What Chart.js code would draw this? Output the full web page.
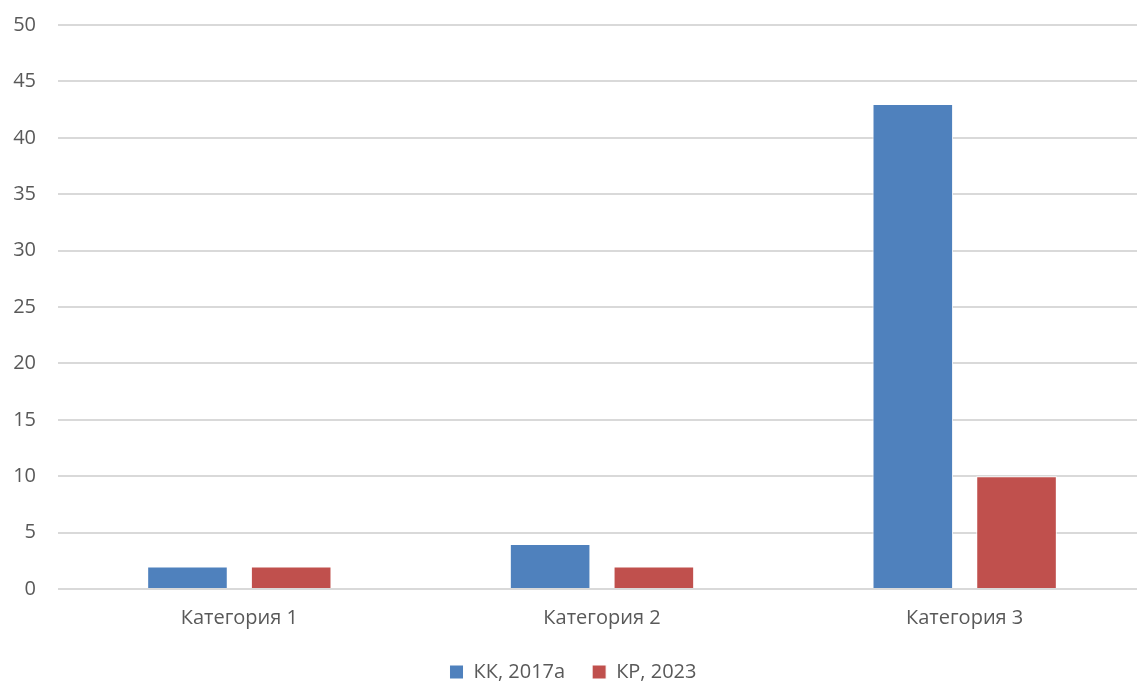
<!DOCTYPE html>
<html><head><meta charset="utf-8">
<script src="https://cdn.jsdelivr.net/npm/chart.js@4"></script>
<style>html,body{margin:0;padding:0;background:#fff;overflow:hidden}#wrap{width:1146px;height:682px}</style>
</head><body><div id="wrap"><canvas id="c"></canvas></div>
<script>
const categories = ["Категория 1", "Категория 2", "Категория 3"];
const seriesKK = [2, 4, 43];
const seriesKR = [2, 2, 10];
const seriesNames = ["КК, 2017а", "КР, 2023"];
const yMin = 0, yMax = 50, yStep = 5;

const font = {family: "'Open Sans', 'Liberation Sans', sans-serif", size: 20};
new Chart(document.getElementById('c'), {
  type: 'bar',
  data: {
    labels: categories,
    datasets: [
      {label: seriesNames[0], data: seriesKK, backgroundColor: '#4F81BD', borderColor: '#ffffff', borderWidth: 1, categoryPercentage: 0.572, barPercentage: 0.777},
      {label: seriesNames[1], data: seriesKR, backgroundColor: '#C0504D', borderColor: '#ffffff', borderWidth: 1, categoryPercentage: 0.572, barPercentage: 0.777}
    ]
  },
  options: {
    responsive: true, maintainAspectRatio: false, animation: false,
    layout: {padding: {top: 25, right: 0, bottom: -10, left: 0}},
    plugins: {
      legend: {position: 'bottom', labels: {font: font, color: '#595959', boxWidth: 14, boxHeight: 14, padding: 27}},
      tooltip: {enabled: false}
    },
    scales: {
      x: {grid: {display: false, drawTicks: false}, border: {display: false},
          ticks: {font: font, color: '#595959', padding: 17},
          afterFit: s => { s.height = 46; s.paddingLeft = 0; s.paddingRight = 0; }},
      y: {min: yMin, max: yMax, ticks: {stepSize: yStep, font: font, color: '#595959', padding: 22},
          grid: {color: '#D9D9D9', lineWidth: 2, drawTicks: false}, border: {display: false},
          afterFit: s => { s.width = 58; s.paddingTop = 0; s.paddingBottom = 0; }}
    }
  }
});
</script></body></html>
